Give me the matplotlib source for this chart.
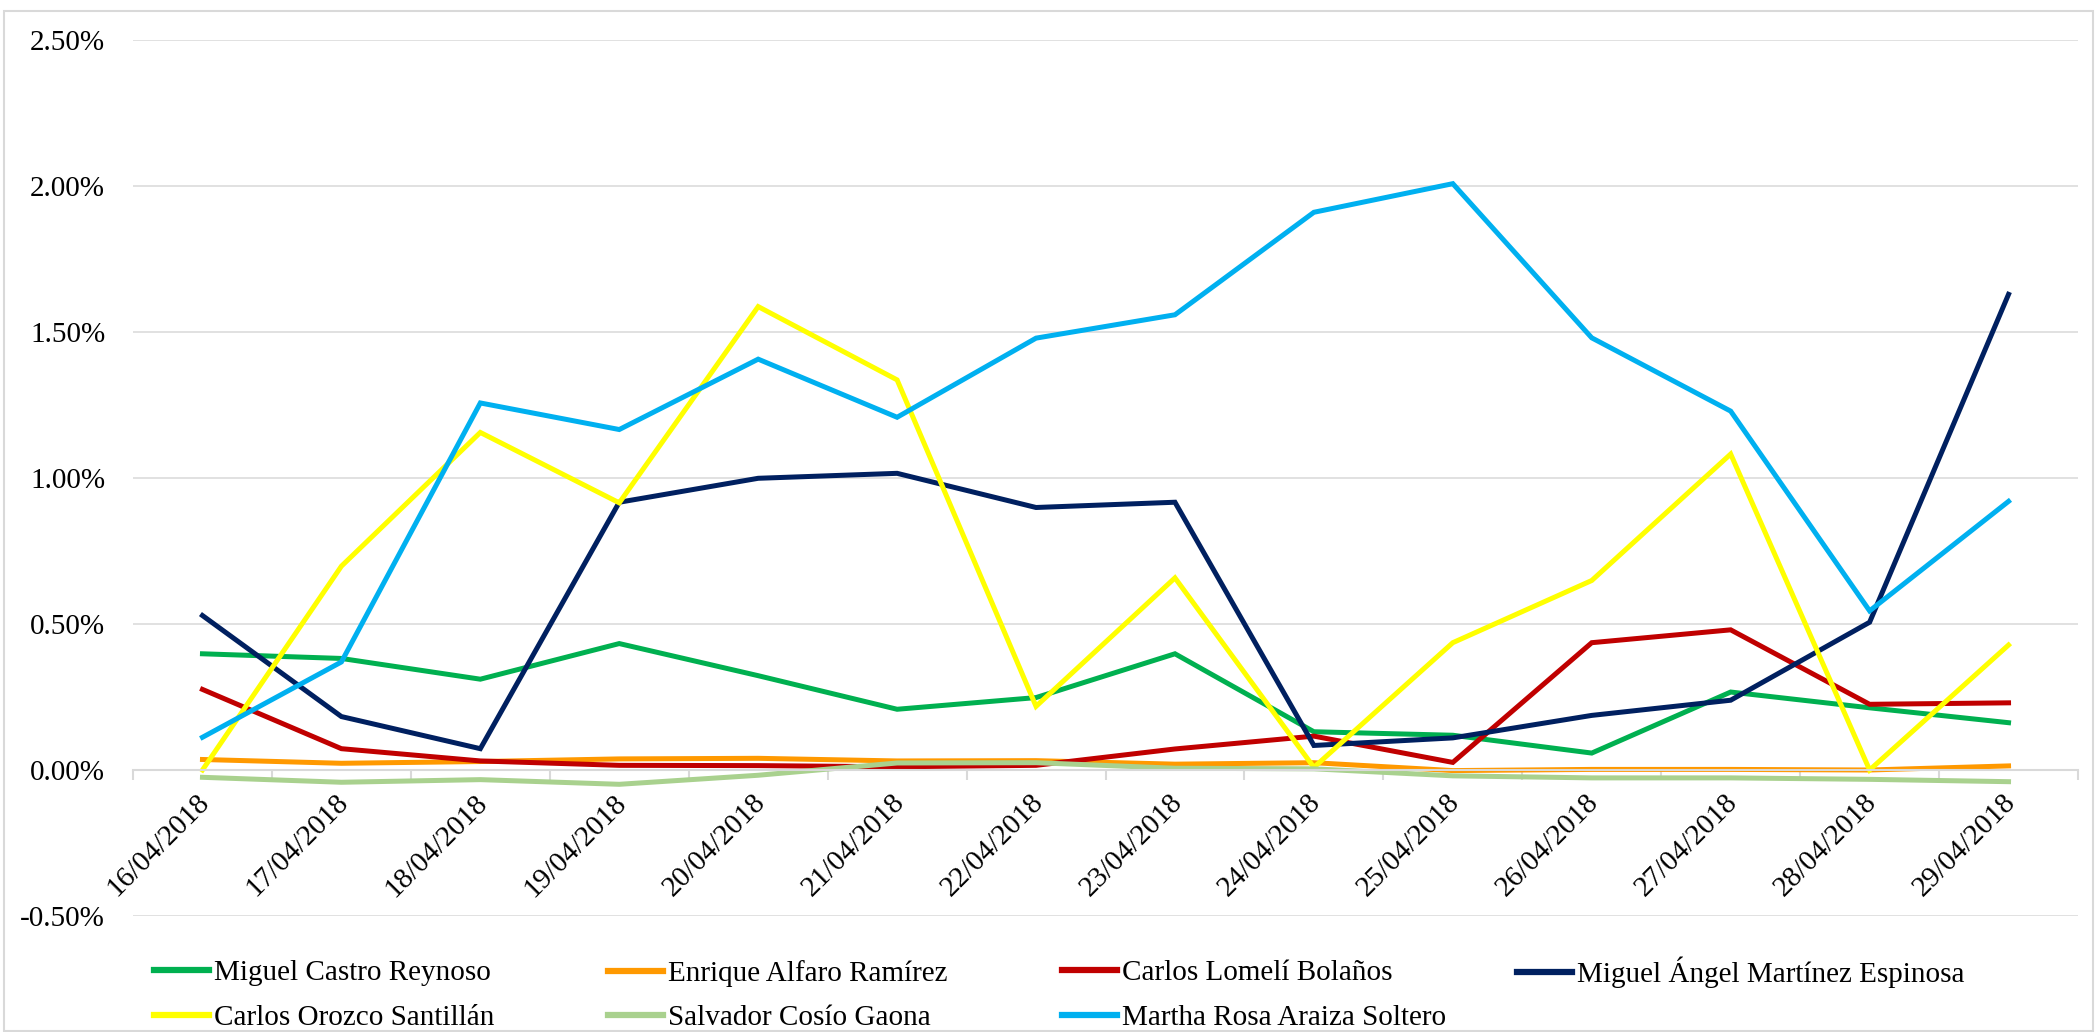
import matplotlib
matplotlib.use("Agg")
import matplotlib.pyplot as plt
from matplotlib.patches import Rectangle
from matplotlib.ticker import FuncFormatter, FixedLocator
from matplotlib.transforms import ScaledTranslation
import numpy as np

plt.rcParams['font.family'] = ['Liberation Serif', 'DejaVu Serif']

dates = ["16/04/2018", "17/04/2018", "18/04/2018", "19/04/2018", "20/04/2018",
         "21/04/2018", "22/04/2018", "23/04/2018", "24/04/2018", "25/04/2018",
         "26/04/2018", "27/04/2018", "28/04/2018", "29/04/2018"]

miguel_castro = [0.398, 0.382, 0.311, 0.433, 0.323, 0.208, 0.248, 0.398, 0.131, 0.119, 0.058, 0.267, 0.213, 0.162]
enrique_alfaro = [0.036, 0.023, 0.029, 0.038, 0.040, 0.031, 0.032, 0.020, 0.025, -0.002, 0.002, 0.002, 0.000, 0.014]
carlos_lomeli = [0.276, 0.073, 0.031, 0.016, 0.015, 0.011, 0.016, 0.072, 0.116, 0.026, 0.436, 0.480, 0.225, 0.230]
miguel_angel = [0.529, 0.183, 0.073, 0.917, 0.999, 1.016, 0.899, 0.917, 0.084, 0.110, 0.187, 0.239, 0.506, 1.629]
carlos_orozco = [0.0, 0.698, 1.156, 0.915, 1.587, 1.336, 0.218, 0.658, 0.009, 0.436, 0.649, 1.082, 0.0, 0.428]
salvador_cosio = [-0.025, -0.042, -0.033, -0.049, -0.018, 0.024, 0.025, 0.006, 0.004, -0.020, -0.027, -0.027, -0.032, -0.040]
martha_araiza = [0.112, 0.370, 1.257, 1.166, 1.407, 1.208, 1.479, 1.559, 1.910, 2.008, 1.480, 1.229, 0.545, 0.920]

series_names = ["Miguel Castro Reynoso", "Enrique Alfaro Ramírez", "Carlos Lomelí Bolaños",
                "Miguel Ángel Martínez Espinosa", "Carlos Orozco Santillán",
                "Salvador Cosío Gaona", "Martha Rosa Araiza Soltero"]
series_values = [miguel_castro, enrique_alfaro, carlos_lomeli, miguel_angel,
                 carlos_orozco, salvador_cosio, martha_araiza]
colors = ["#00B050", "#FF9900", "#C00000", "#002060", "#FFFF00", "#A9D18E", "#00B0F0"]

W, H = 2095, 1032
FS = 21
fig = plt.figure(figsize=(W / 100, H / 100), dpi=100)
ax = fig.add_axes([133 / W, 1 - 916 / H, (2078 - 133) / W, (916 - 40) / H])

x = np.arange(len(dates))
lines = []
for name, vals, c in zip(series_names, series_values, colors):
    ln, = ax.plot(x, vals, color=c, lw=3.6, label=name, solid_joinstyle='miter')
    lines.append(ln)

ax.set_xlim(-0.5, len(dates) - 0.5)
ax.set_ylim(-0.5, 2.5)
ax.set_yticks([-0.5, 0.0, 0.5, 1.0, 1.5, 2.0, 2.5])
ax.yaxis.set_major_formatter(FuncFormatter(lambda v, p: f"{v:.2f}%"))
ax.grid(axis='y', color='#D9D9D9', lw=1.1)
ax.set_axisbelow(True)
ax.tick_params(axis='y', length=0, pad=20, labelsize=FS)

for s in ['top', 'right', 'left']:
    ax.spines[s].set_visible(False)
ax.spines['bottom'].set_position(('data', 0))
ax.spines['bottom'].set_color('#D9D9D9')
ax.spines['bottom'].set_linewidth(1.5)

ax.xaxis.set_major_locator(FixedLocator(np.arange(-0.5, len(dates), 1.0)))
ax.xaxis.set_major_formatter(FuncFormatter(lambda v, p: ""))
ax.xaxis.set_minor_locator(FixedLocator(x))
ax.set_xticklabels(dates, minor=True, rotation=45, ha='right', rotation_mode='anchor', fontsize=FS)
ax.tick_params(axis='x', which='major', length=7, color='#D9D9D9', width=1.5, direction='out')
ax.tick_params(axis='x', which='minor', length=0, pad=14)
shift = ScaledTranslation(-6 / 100, 0, fig.dpi_scale_trans)
for lab in ax.get_xticklabels(minor=True):
    lab.set_transform(lab.get_transform() + shift)

# legend laid out in equal-width columns like the original
row1_y, row2_y = 972, 1019
cols = [([0, 4], 154), ([1, 5], 608), ([2, 6], 1062), ([3], 1517)]
for idxs, xpix in cols:
    yc = (row1_y + row2_y) / 2 if len(idxs) == 2 else row1_y
    leg = fig.legend([lines[i] for i in idxs], [series_names[i] for i in idxs],
                     loc='center left', bbox_to_anchor=(xpix / W, 1 - yc / H),
                     frameon=False, fontsize=FS, handlelength=1.9, handletextpad=0.17,
                     labelspacing=0.62, borderaxespad=0, borderpad=0)
    for h in leg.legend_handles:
        h.set_linewidth(4.5)

fig.patches.append(Rectangle((4 / W, 1 / H), (W - 6) / W, (H - 12) / H, transform=fig.transFigure,
                             fill=False, edgecolor='#D9D9D9', lw=1.5))

fig.savefig("out.png", dpi=100)
